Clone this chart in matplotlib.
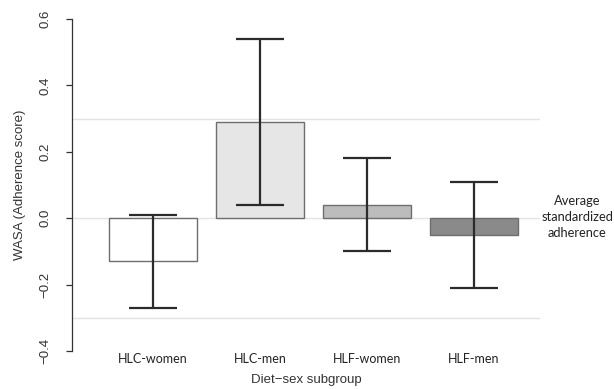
"""Diet-sex subgroup adherence bar chart (WASA scores with error bars)."""
import matplotlib
matplotlib.use("Agg")
import matplotlib.pyplot as plt
import numpy as np

groups = ["HLC-women", "HLC-men", "HLF-women", "HLF-men"]
means = [-0.13, 0.29, 0.04, -0.05]
lower = [-0.27, 0.04, -0.10, -0.21]
upper = [0.01, 0.54, 0.18, 0.11]
bar_colors = ["#ffffff", "#e6e6e6", "#bcbcbc", "#8a8a8a"]
ref_lines = [0.3, 0.0, -0.3]
yticks = [-0.4, -0.2, 0.0, 0.2, 0.4, 0.6]

W, H = 614, 389
fig = plt.figure(figsize=(W / 100, H / 100), dpi=100)
ax = fig.add_axes([72 / W, (H - 351) / H, (540 - 72) / W, (351 - 19) / H])

x = np.arange(len(groups))
means = np.array(means); lower = np.array(lower); upper = np.array(upper)

for y in ref_lines:
    ax.axhline(y, color="#e3e3e3", lw=1.0, zorder=0)

ax.bar(x, means, width=0.83, color=bar_colors, edgecolor="#6e6e6e", lw=1.0, zorder=2)
ax.errorbar(x, means, yerr=[means - lower, upper - means], fmt="none",
            ecolor="#2b2b2b", elinewidth=1.6, capsize=17.5, capthick=1.6, zorder=3)

ax.set_xlim(-0.757, 3.617)
ax.set_ylim(-0.4, 0.6)
for s in ["top", "right", "bottom"]:
    ax.spines[s].set_visible(False)
ax.spines["left"].set_color("#333333")
ax.spines["left"].set_linewidth(0.9)
ax.set_xticks([])
ax.set_yticks(yticks)
ax.set_yticklabels([f"{v:.1f}".replace("-", "\u2212") for v in yticks],
                   rotation=90, va="center", fontsize=9.5, family="Liberation Sans",
                   color="#333333")
ax.tick_params(axis="y", length=4.5, width=0.9, color="#333333", pad=10)

for xi, g in zip(x, groups):
    ax.text(xi, -0.006, g, transform=ax.get_xaxis_transform(), ha="center", va="top",
            fontsize=9, family="Lato", color="#222222", clip_on=False)

ax.set_ylabel("WASA (Adherence score)", fontsize=9.5, family="Liberation Sans",
              color="#333333", labelpad=10)
fig.text(306 / W, 1 - 380 / H, "Diet\u2212sex subgroup", ha="center", va="center",
         fontsize=9.5, family="Liberation Sans", color="#333333")
fig.text(577 / W, 1 - 217 / H, "Average\nstandardized\nadherence", ha="center",
         va="center", fontsize=9.3, family="Lato", color="#222222", linespacing=1.4)

fig.savefig("out.png", dpi=100)
